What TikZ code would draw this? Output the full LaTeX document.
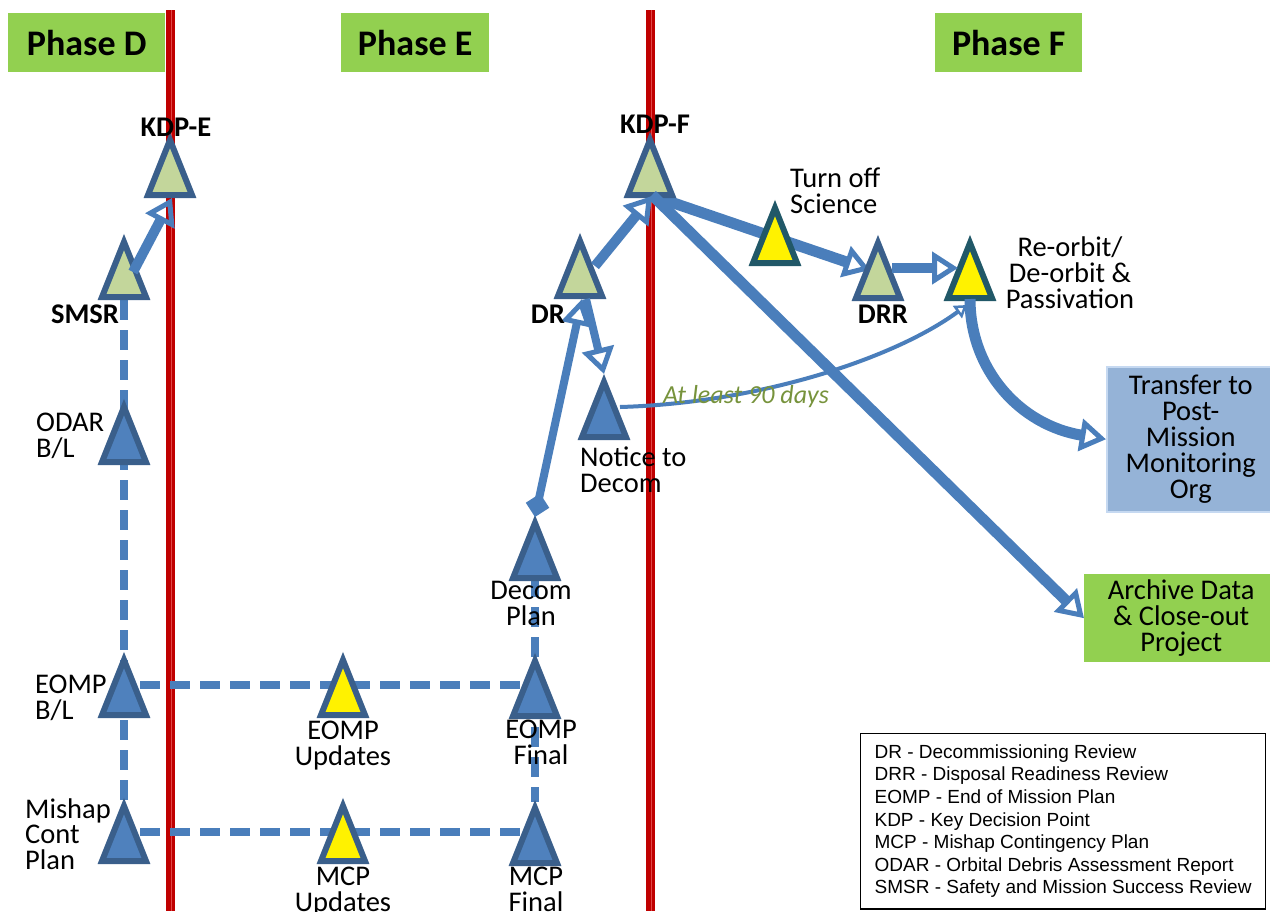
\documentclass[tikz,border=0pt]{standalone}
\usepackage{fontspec}
\setmainfont{Carlito}
\newfontfamily\legendfont{Liberation Sans}
\usetikzlibrary{arrows.meta,calc}

\definecolor{phasegreen}{HTML}{92D050}
\definecolor{milered}{HTML}{C00000}
\definecolor{milepale}{HTML}{E04848}
\definecolor{trigreen}{HTML}{C3D69B}
\definecolor{triblue}{HTML}{3A5F8B}
\definecolor{trifill}{HTML}{4F81BD}
\definecolor{tealedge}{HTML}{215868}
\definecolor{flowblue}{HTML}{4A7EBB}
\definecolor{notegreen}{HTML}{77933C}
\definecolor{boxblue}{HTML}{95B3D7}
\definecolor{boxedge}{HTML}{C6D9F1}

\tikzset{
  phase/.style={fill=phasegreen, font=\fontsize{36}{40}\selectfont\bfseries,
    inner sep=0pt, minimum height=59pt},
  milestone/.style={draw=milered, line width=9pt},
  lab/.style={font=\fontsize{28.5}{25.8}\selectfont, inner sep=0pt},
  blab/.style={font=\fontsize{28.5}{25.8}\selectfont\bfseries, inner sep=0pt},
  flow/.style={draw=flowblue, line width=#1},
  openhead/.style={-{Triangle[open, length=26pt, width=32pt, line width=5pt]}},
  smallhead/.style={-{Triangle[open, length=12pt, width=15pt, line width=2.5pt]}},
  plan/.style={draw=flowblue, line width=8pt, dash pattern=on 20pt off 10pt},
  greentri/.style={fill=trigreen, draw=triblue},
  bluetri/.style={fill=trifill, draw=triblue},
  yellowtri/.style={fill=yellow, draw=triblue},
  tealtri/.style={fill=yellow, draw=tealedge},
  tri/.pic={
    \path[pic actions, line width=6pt, line join=miter]
      (0,-25) -- (22,30) -- (-22,30) -- cycle;
    \coordinate (-t) at (0,-33);
    \coordinate (-b) at (0,33);
    \coordinate (-c) at (0,0);
  }
}

\begin{document}
\begin{tikzpicture}[x=1pt,y=-1pt]
\useasboundingbox (0,0) rectangle (1270,911);
\fill[white] (0,0) rectangle (1270,911);

% phase gates
\draw[milestone] (170,10) -- (170,911);
\draw[milepale, line width=1.2pt] (171.5,10) -- (171.5,911);
\draw[milestone] (650,10) -- (650,911);
\draw[milepale, line width=1.2pt] (651.5,10) -- (651.5,911);

% phase headers
\node[phase, minimum width=157pt, anchor=north west] (phD) at (8,13) {Phase D};
\node[phase, minimum width=148pt, anchor=north west] (phE) at (341,13) {Phase E};
\node[phase, minimum width=147pt, anchor=north west] (phF) at (935,13) {Phase F};

% outcome boxes
\node[fill=boxblue, draw=boxedge, line width=1.5pt, minimum width=168pt,
  minimum height=145pt, anchor=north west, align=center,
  font=\fontsize{28.5}{25.8}\selectfont, inner sep=0pt] (transfer) at (1106,366)
  {Transfer to\\Post-\\Mission\\Monitoring\\Org};
\node[fill=phasegreen, minimum width=194pt, minimum height=88pt,
  anchor=north west, align=center,
  font=\fontsize{28.5}{25.8}\selectfont, inner sep=0pt] (archive) at (1084,574)
  {Archive Data\\\& Close-out\\Project};

% baseline / update / final plan threads
\coordinate (bl-top) at (124,300);
\coordinate (bl-bot) at (124,800);
\draw[plan] (bl-top) -- (bl-bot);
\coordinate (eomp-w) at (140,685);
\coordinate (eomp-e) at (520,685);
\draw[plan] (eomp-w) -- (eomp-e);
\coordinate (mcp-w) at (140,832);
\coordinate (mcp-e) at (520,832);
\draw[plan] (mcp-w) -- (mcp-e);
\coordinate (fin-top) at (535,577);
\coordinate (fin-bot) at (535,802);
\draw[plan] (fin-top) -- (fin-bot);

% disposal path passing behind the science milestone
\coordinate (kdpf-out) at (653,196);
\coordinate (drr-in) at (870,270);
\draw[flow=11pt, openhead] (kdpf-out) -- (drr-in);

% milestones
\pic[greentri] (kdpe) at (170,165) {tri};
\pic[greentri] (smsr) at (124,267) {tri};
\pic[bluetri] (odar) at (124,432) {tri};
\pic[bluetri] (eompbl) at (124,685) {tri};
\pic[bluetri] (mcpbl) at (124,831) {tri};
\pic[yellowtri] (eompup) at (343,685) {tri};
\pic[yellowtri] (mcpup) at (343,831) {tri};
\pic[bluetri] (decom) at (535,548) {tri};
\pic[bluetri] (eompfin) at (535,686) {tri};
\pic[bluetri] (mcpfin) at (535,833) {tri};
\pic[greentri] (dr) at (580,266) {tri};
\pic[bluetri] (notice) at (604,407) {tri};
\pic[greentri] (kdpf) at (650,165) {tri};
\pic[tealtri] (turnoff) at (775,233) {tri};
\pic[greentri] (drr) at (878,268) {tri};
\pic[tealtri] (reorbit) at (970,268) {tri};

% connectors
\draw[flow=10pt, openhead] ($(smsr-c)+(9,5)$) -- ($(kdpe-b)+(2,0)$);
\draw[flow=10pt, openhead] ($(dr-c)+(15,0)$) -- ($(kdpf-b)+(2,-2)$);
\draw[flow=8pt, {Diamond[length=24pt,width=24pt]}-{Triangle[open, length=26pt, width=30pt, line width=5pt]}]
  ($(decom-t)+(0,2)$) -- ($(dr-b)+(2,0)$);
\draw[flow=8pt, openhead] ($(dr-b)+(6,0)$) -- (notice-t);
\draw[flow=10pt, openhead] ($(drr-c)+(14,0)$) -- ($(reorbit-c)+(-12,0)$);
\draw[flow=11pt, openhead] ($(kdpf-b)+(2,-3)$) -- (archive.west);
\draw[flow=11pt, openhead] ($(reorbit-b)+(0,-2)$)
  .. controls (970,370) and (1020,425) .. (transfer.west);
\draw[flow=4pt, smallhead] ($(notice-c)+(16,0)$)
  .. controls (760,403) and (895,358) .. ($(reorbit-b)+(-3,4)$);

% milestone labels
\node[blab, anchor=north] (kdpeL) at (176,118) {KDP-E};
\node[blab, anchor=north] (kdpfL) at (655,115) {KDP-F};
\node[blab, anchor=north] (smsrL) at (85,305) {SMSR};
\node[blab, anchor=north] (drL) at (548,305) {DR};
\node[blab, anchor=north] (drrL) at (883,305) {DRR};
\node[lab, anchor=north west, align=left] (odarL) at (36,413) {ODAR\\B/L};
\node[lab, anchor=north west, align=left] (eompblL) at (35,675) {EOMP\\B/L};
\node[lab, anchor=north west, align=left] (mcpblL) at (25,798) {Mishap\\Cont\\Plan};
\node[lab, anchor=north, align=center] (eompupL) at (343,721) {EOMP\\Updates};
\node[lab, anchor=north, align=center] (mcpupL) at (343,867) {MCP\\Updates};
\node[lab, anchor=north, align=center] (decomL) at (531,581) {Decom\\Plan};
\node[lab, anchor=north, align=center] (eompfinL) at (541,720) {EOMP\\Final};
\node[lab, anchor=north, align=center] (mcpfinL) at (536,867) {MCP\\Final};
\node[lab, anchor=north west, align=left] (noticeL) at (580,447) {Notice to\\Decom};
\node[lab, anchor=north west, align=left] (turnoffL) at (790,168) {Turn off\\Science};
\node[lab, anchor=north, align=center] (reorbitL) at (1070,237) {Re-orbit/\\De-orbit \&\\Passivation};
\node[inner sep=0pt, anchor=base, text=notegreen,
  font=\fontsize{26}{28}\selectfont\itshape] (waitL) at (746,403) {At least 90 days};

% acronym legend
\node[draw=black, line width=1.2pt, anchor=north west, align=left,
  inner xsep=14pt, inner ysep=11pt,
  font=\legendfont\fontsize{19}{22.6}\selectfont] (legend) at (860,733)
  {DR - Decommissioning Review\\
   DRR - Disposal Readiness Review\\
   EOMP - End of Mission Plan\\
   KDP - Key Decision Point\\
   MCP - Mishap Contingency Plan\\
   ODAR - Orbital Debris Assessment Report\\
   SMSR - Safety and Mission Success Review};
\end{tikzpicture}
\end{document}
